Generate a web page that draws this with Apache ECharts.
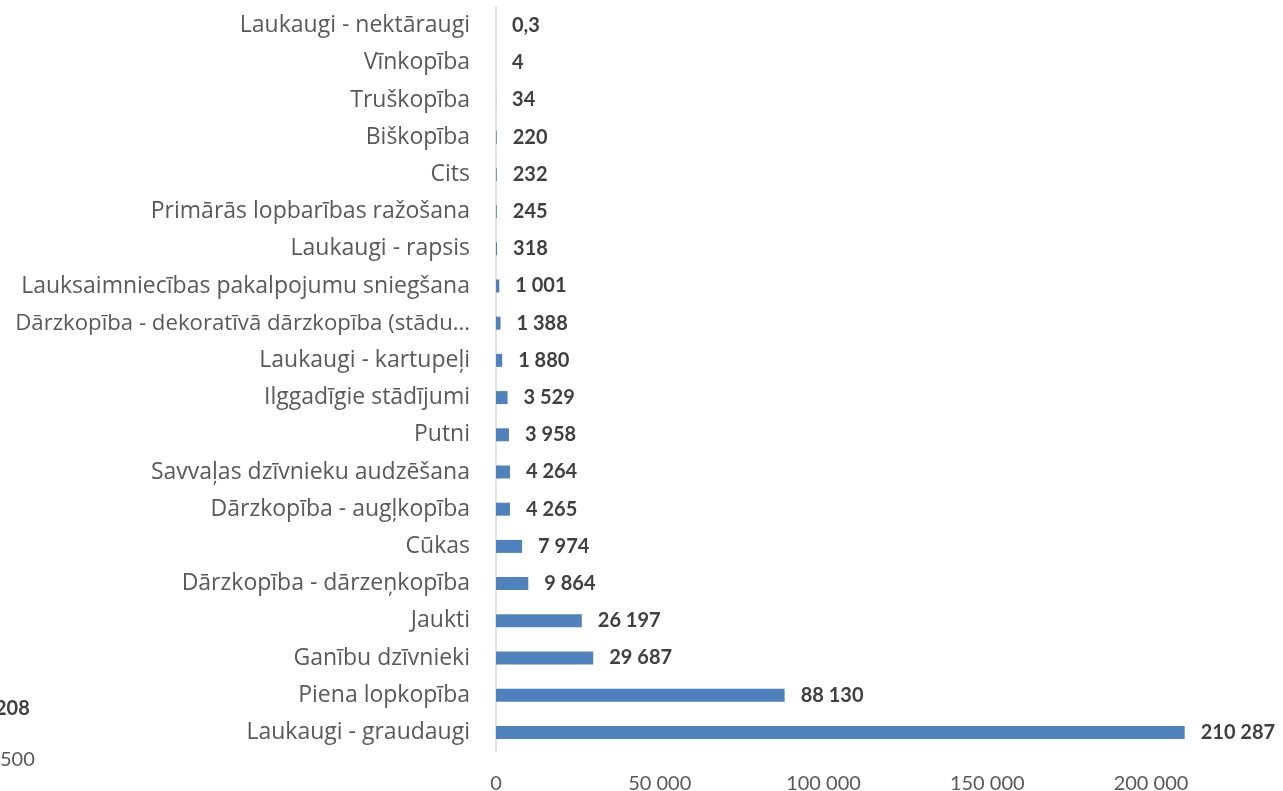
<!DOCTYPE html>
<html>
<head>
<meta charset="utf-8">
<title>Lauksaimniecības nozares</title>
<script src="https://cdn.jsdelivr.net/npm/echarts@6/dist/echarts.min.js"></script>
<style>
  html, body { margin: 0; padding: 0; background: #ffffff; }
  #chart { width: 1283px; height: 791px; }
</style>
</head>
<body>
<div id="chart"></div>
<script>
// Nozares (no apakšas uz augšu, kā tās zīmē kategoriju ass)
const categories = [
  'Laukaugi - graudaugi',
  'Piena lopkopība',
  'Ganību dzīvnieki',
  'Jaukti',
  'Dārzkopība - dārzeņkopība',
  'Cūkas',
  'Dārzkopība - augļkopība',
  'Savvaļas dzīvnieku audzēšana',
  'Putni',
  'Ilggadīgie stādījumi',
  'Laukaugi - kartupeļi',
  'Dārzkopība - dekoratīvā dārzkopība (stādu…',
  'Lauksaimniecības pakalpojumu sniegšana',
  'Laukaugi - rapsis',
  'Primārās lopbarības ražošana',
  'Cits',
  'Biškopība',
  'Truškopība',
  'Vīnkopība',
  'Laukaugi - nektāraugi'
];

const values = [
  210287, 88130, 29687, 26197, 9864, 7974, 4265, 4264, 3958, 3529,
  1880, 1388, 1001, 318, 245, 232, 220, 34, 4, 0.3
];

// Ass iedaļas
const axisMin = 0;
const axisMax = 220000;
const axisStep = 50000;

function fmt(v) {
  const parts = String(v).split('.');
  const int = parts[0].replace(/\B(?=(\d{3})+(?!\d))/g, ' ');
  return parts.length > 1 ? int + ',' + parts[1] : int;
}

// Garais, saīsinātais nosaukums tiek zīmēts nedaudz šaurāk, lai ietilptu
const categoryData = categories.map(name =>
  name.endsWith('…') ? { value: name, textStyle: { fontSize: 22.2 } } : name
);

const chart = echarts.init(document.getElementById('chart'), null, { renderer: 'canvas' });

chart.setOption({
  animation: false,
  backgroundColor: '#ffffff',
  grid: {
    left: 496, top: 7, width: 720.5, height: 744,
    containLabel: false,
    outerBoundsMode: 'none'
  },
  xAxis: {
    type: 'value',
    min: axisMin,
    max: axisMax,
    interval: axisStep,
    axisLine: { show: false },
    axisTick: { show: false },
    splitLine: { show: false },
    axisLabel: {
      showMaxLabel: false,
      margin: 23,
      color: '#595959',
      fontFamily: 'Lato',
      fontSize: 20,
      formatter: fmt
    }
  },
  yAxis: {
    type: 'category',
    data: categoryData,
    axisLine: { show: true, lineStyle: { color: '#d9d9d9', width: 1.5 } },
    axisTick: { show: false },
    axisLabel: {
      margin: 26,
      color: '#595959',
      fontFamily: 'Open Sans',
      fontSize: 23
    }
  },
  series: [{
    type: 'bar',
    data: values,
    barWidth: 13,
    itemStyle: { color: '#4f81bd' },
    label: {
      show: true,
      position: 'right',
      distance: 16,
      color: '#404040',
      fontFamily: 'Lato',
      fontWeight: 'bold',
      fontSize: 20,
      formatter: p => fmt(p.value)
    }
  }],
  graphic: [
    {
      type: 'text', left: -5, top: 699,
      style: { text: '208', fontFamily: 'Lato', fontWeight: 'bold', fontSize: 20, fill: '#404040' }
    },
    {
      type: 'text', left: 0, top: 750,
      style: { text: '500', fontFamily: 'Lato', fontSize: 20, fill: '#595959' }
    }
  ]
});
</script>
</body>
</html>
